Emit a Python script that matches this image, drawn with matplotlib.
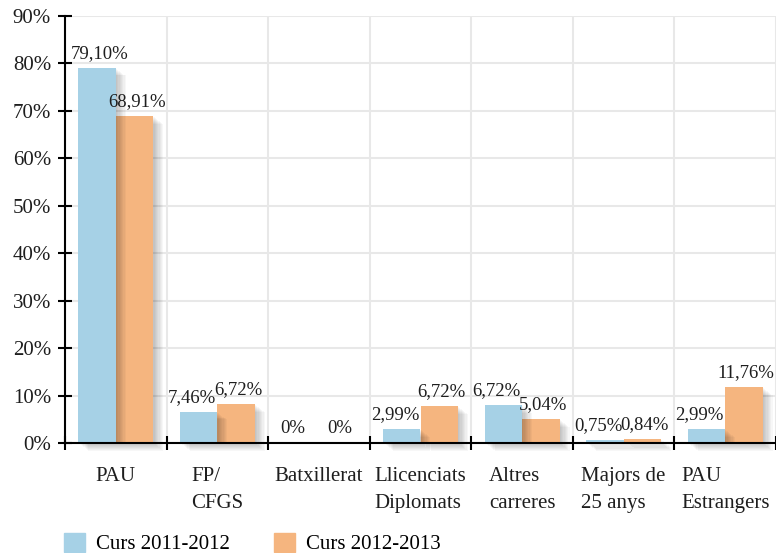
import numpy as np
import matplotlib
matplotlib.use("Agg")
import matplotlib.pyplot as plt
from matplotlib import patheffects as pe
from matplotlib.patches import Patch

plt.rcParams['font.family'] = ['Liberation Serif', 'DejaVu Serif']

categories = ["PAU", "FP/\nCFGS", "Batxillerat", "Llicenciats\nDiplomats",
              "Altres\ncarreres", "Majors de\n25 anys", "PAU\nEstrangers"]
series_names = ["Curs 2011-2012", "Curs 2012-2013"]
# bar heights as drawn in the picture
values_2011 = [79.1, 6.6, 0.0, 3.0, 8.0, 0.65, 3.0]
values_2012 = [68.91, 8.2, 0.0, 7.8, 5.04, 0.84, 11.7]
# printed data labels
labels_2011 = ["79,10%", "7,46%", "0%", "2,99%", "6,72%", "0,75%", "2,99%"]
labels_2012 = ["68,91%", "6,72%", "0%", "6,72%", "5,04%", "0,84%", "11,76%"]
yticks = list(range(0, 91, 10))

blue = "#a6d1e6"
orange = "#f5b57f"
txt = "#1e1e1e"

fig = plt.figure(figsize=(7.76, 5.53), dpi=100)
ax = fig.add_axes([65/776, 110/553, 1 - 65/776, (443-16)/553])

n = len(categories)
x = np.arange(n)
bw = 0.369

def shadow_effects():
    effs = []
    for k in range(1, 9):
        effs.append(pe.SimplePatchShadow(offset=(k*0.9, -k*0.7), shadow_rgbFace='black', alpha=0.032))
    effs.append(pe.Normal())
    return effs

b2 = ax.bar(x + bw/2, values_2012, bw, color=orange, zorder=3, clip_on=False)
b1 = ax.bar(x - bw/2, values_2011, bw, color=blue, zorder=4, clip_on=False)
for bars, vals in ((b1, values_2011), (b2, values_2012)):
    for r, v in zip(bars, vals):
        if v > 0:
            r.set_path_effects(shadow_effects())

ann_blue = []
for xi, v, lab in zip(x - bw/2, values_2011, labels_2011):
    ann_blue.append(ax.annotate(lab, (xi, v), xytext=(-5, 10.5), textcoords='offset points',
                    ha='center', va='center', fontsize=13.5, color=txt, zorder=6))
for xi, v, lab in zip(x + bw/2, values_2012, labels_2012):
    ax.annotate(lab, (xi, v), xytext=(1.5, 10.5), textcoords='offset points',
                ha='center', va='center', fontsize=13.5, color=txt, zorder=6)

ax.set_xlim(-0.5, n - 0.5)
ax.set_ylim(0, 90)
ax.set_yticks(yticks)
ax.set_yticklabels([f"{t}%" for t in yticks], fontsize=15, color=txt)
ax.set_xticks(np.arange(n + 1) - 0.5)
ax.set_xticklabels([])
ax.set_xticks(x, minor=True)
ax.set_xticklabels(categories, minor=True, fontsize=15, color=txt,
                   multialignment='left', linespacing=1.6)
ax.tick_params(axis='x', which='minor', length=0, pad=17)
ax.tick_params(axis='x', which='major', direction='inout', length=10, width=1.5)
ax.tick_params(axis='y', direction='inout', length=10, width=1.5, pad=5)

ax.grid(True, which='major', color='#e8e8e8', linewidth=1.5, zorder=0)
ax.set_axisbelow(True)
for s in ('top', 'right'):
    ax.spines[s].set_visible(False)
for s in ('left', 'bottom'):
    ax.spines[s].set_linewidth(1.5)
    ax.spines[s].set_zorder(5)

handles = [Patch(color=blue), Patch(color=orange)]
fig.legend(handles, series_names, loc='upper left', bbox_to_anchor=(64/776, 1 - 533/553),
           ncol=2, frameon=False, fontsize=15, handlelength=1.0, handleheight=1.0,
           handletextpad=0.55, columnspacing=2.1, borderpad=0, borderaxespad=0)

# keep data labels clear of the y axis
fig.canvas.draw()
renderer = fig.canvas.get_renderer()
axis_left = ax.get_window_extent().x0
for a in ann_blue:
    bb = a.get_window_extent(renderer)
    gap = bb.x0 - (axis_left + 6)
    if gap < 0:
        dx, dy = a.xyann
        a.xyann = (dx - gap * 72 / fig.dpi, dy)

fig.savefig("out.png", dpi=100)
